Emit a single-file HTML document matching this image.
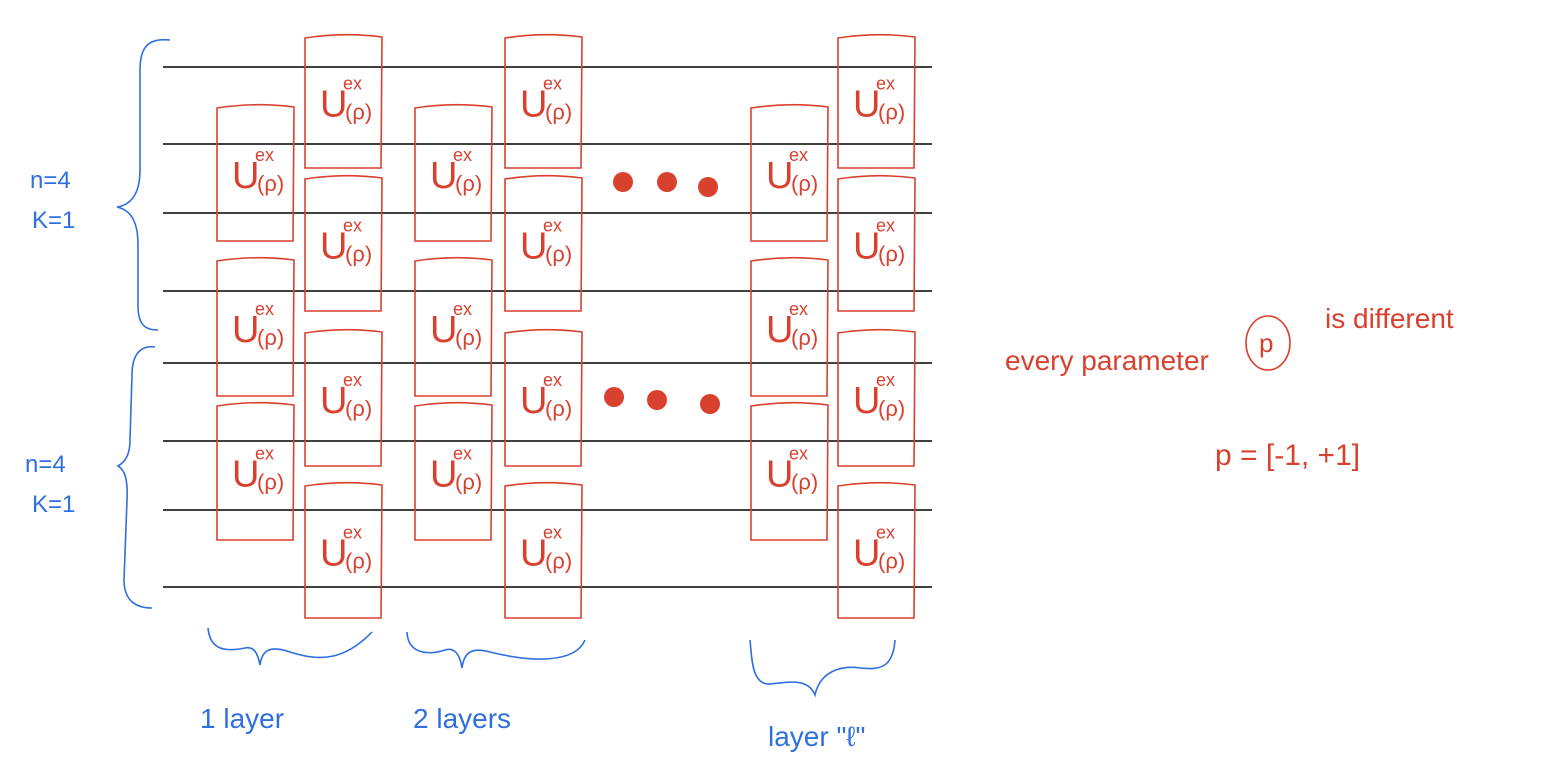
<!DOCTYPE html>
<html><head><meta charset="utf-8"><style>
html,body{margin:0;padding:0;background:#fff;}
svg{display:block;}
.r{fill:none;stroke:#d9412f;stroke-width:1.6;}
.b{fill:none;stroke:#2f6fe0;stroke-width:1.6;}
.rt{fill:#d9412f;font-family:"Liberation Sans",sans-serif;}
.bt{fill:#2f6fe0;font-family:"Liberation Sans",sans-serif;}
</style></head><body>
<svg id="c" width="1544" height="770" viewBox="0 0 1544 770">
<g id="wires"></g>
<g id="boxes"></g>
<g id="dots"></g>
<path class="b" d="M170,40 C150,38 140,45 140,70 L140,170 C140,195 130,205 117,207 C130,210 138,220 138,245 L138,305 C138,325 145,330 158,330"/>
<path class="b" d="M155,347 C140,345 132,355 132,375 L130,440 C130,455 125,462 118,466 C125,470 128,480 127,500 L124,580 C124,600 135,608 152,608"/>
<text class="bt" x="30" y="188" font-size="24">n=4</text>
<text class="bt" x="32" y="228" font-size="24">K=1</text>
<text class="bt" x="25" y="472" font-size="24">n=4</text>
<text class="bt" x="32" y="512" font-size="24">K=1</text>
<path class="b" d="M208,628 C210,650 225,652 245,648 C255,646 258,655 260,665 C262,650 270,645 290,652 C320,662 345,660 372,632"/>
<path class="b" d="M407,632 C408,655 430,655 445,650 C455,647 460,655 462,668 C464,652 472,647 490,652 C530,662 575,664 585,640"/>
<path class="b" d="M750,640 C752,660 752,685 770,684 C790,682 808,678 815,695 C820,672 840,665 860,668 C880,670 893,668 895,640"/>
<text class="bt" x="200" y="728" font-size="28">1 layer</text>
<text class="bt" x="413" y="728" font-size="28">2 layers</text>
<text class="bt" x="768" y="746" font-size="28">layer "ℓ"</text>
<text class="rt" x="1005" y="370" font-size="28">every parameter</text>
<ellipse class="r" cx="1268" cy="343" rx="22" ry="27"/>
<text class="rt" x="1259" y="352" font-size="26">p</text>
<text class="rt" x="1325" y="328" font-size="28">is different</text>
<text class="rt" x="1215" y="465" font-size="30">p = [-1, +1]</text>
</svg>
<script>
const wireY=[67,144,213,291,363,441,510,587];
const colX=[217,305,415,505,751,838];
const rowsA=[[105,241],[258,396],[403,540]];
const rowsB=[[35,168],[176,311],[330,466],[483,618]];
const dotPts=[[623,182],[667,182],[708,187],[614,397],[657,400],[710,404]];
const NS='http://www.w3.org/2000/svg';
const W=document.getElementById('wires'),B=document.getElementById('boxes'),D=document.getElementById('dots');
wireY.forEach((y,i)=>{const l=document.createElementNS(NS,'line');
l.setAttribute('x1',163);l.setAttribute('x2',932);l.setAttribute('y1',y);l.setAttribute('y2',y);
l.setAttribute('stroke','#000');l.setAttribute('stroke-width','1.6');


W.appendChild(l);});
colX.forEach((x,ci)=>{const rows=ci%2===0?rowsA:rowsB;rows.forEach((r,ri)=>{
const g=document.createElementNS(NS,'g');


const w=77,h=r[1]-r[0];
const p=document.createElementNS(NS,'path');p.setAttribute('class','r');
p.setAttribute('d',`M${x},${r[0]+3} Q${x+w/2},${r[0]-3} ${x+w},${r[0]+2} L${x+w-1},${r[1]} L${x},${r[1]} Z`);
g.appendChild(p);
const cy=r[0]+h/2;
const t=document.createElementNS(NS,'text');t.setAttribute('class','rt');t.setAttribute('x',x+15);t.setAttribute('y',cy+15);t.setAttribute('font-size','38');t.textContent='U';g.appendChild(t);
const s=document.createElementNS(NS,'text');s.setAttribute('class','rt');s.setAttribute('x',x+38);s.setAttribute('y',cy-12);s.setAttribute('font-size','18');s.textContent='ex';g.appendChild(s);
const q=document.createElementNS(NS,'text');q.setAttribute('class','rt');q.setAttribute('x',x+40);q.setAttribute('y',cy+18);q.setAttribute('font-size','22');q.textContent='(ρ)';g.appendChild(q);
B.appendChild(g);});});
dotPts.forEach(d=>{const c=document.createElementNS(NS,'circle');c.setAttribute('cx',d[0]);c.setAttribute('cy',d[1]);c.setAttribute('r',10);c.setAttribute('fill','#d9412f');


D.appendChild(c);});
</script>
</body></html>
